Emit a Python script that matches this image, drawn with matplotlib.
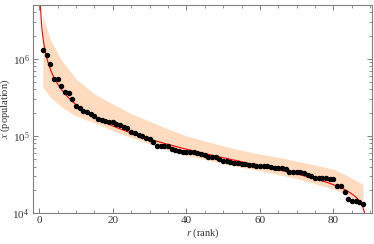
import matplotlib
matplotlib.use("Agg")
import matplotlib.pyplot as plt
import numpy as np
from matplotlib.ticker import MultipleLocator, LogLocator, NullFormatter

plt.rcParams["font.family"] = ["Liberation Serif", "DejaVu Serif"]
plt.rcParams["mathtext.fontset"] = "stix"

# population by rank
rank = np.arange(1, 89)
population = [
    1.31e6, 1.13e6, 8.5e5, 5.4e5, 5.4e5, 4.46e5, 3.76e5, 3.59e5, 3.0e5, 2.41e5,
    2.33e5, 2.13e5, 2.03e5, 1.93e5, 1.79e5, 1.66e5, 1.59e5, 1.55e5, 1.53e5, 1.52e5,
    1.42e5, 1.40e5, 1.32e5, 1.25e5, 1.14e5, 1.08e5, 1.03e5, 1.0e5, 9.5e4, 9.06e4,
    8.43e4, 7.48e4, 7.48e4, 7.48e4, 7.41e4, 6.78e4, 6.64e4, 6.44e4, 6.25e4, 6.2e4,
    6.14e4, 6.1e4, 6.0e4, 5.84e4, 5.61e4, 5.38e4, 5.38e4, 5.29e4, 5.02e4, 4.69e4,
    4.69e4, 4.63e4, 4.5e4, 4.42e4, 4.33e4, 4.26e4, 4.2e4, 4.16e4, 4.11e4, 4.11e4,
    4.07e4, 4.04e4, 3.99e4, 3.87e4, 3.87e4, 3.81e4, 3.73e4, 3.44e4, 3.44e4, 3.44e4,
    3.44e4, 3.33e4, 3.14e4, 3.03e4, 2.87e4, 2.87e4, 2.87e4, 2.82e4, 2.77e4, 2.77e4,
    2.24e4, 2.24e4, 1.89e4, 1.52e4, 1.45e4, 1.42e4, 1.39e4, 1.31e4,
]

# band edges at a few ranks
band_rank = [1, 3, 6, 10, 15, 20, 25, 30, 35, 40, 45, 50, 55, 60, 65, 70, 75, 80, 84, 88]
band_upper = [3.6e6, 1.8e6, 9.7e5, 5.5e5, 3.5e5, 2.6e5, 1.95e5, 1.55e5, 1.23e5, 1.0e5,
              8.6e4, 7.4e4, 6.5e4, 5.8e4, 5.3e4, 4.7e4, 4.2e4, 3.7e4, 3.0e4, 2.35e4]
band_lower = [4.3e5, 3.2e5, 2.4e5, 1.8e5, 1.48e5, 1.17e5, 9.5e4, 7.9e4, 6.5e4, 5.6e4,
              4.95e4, 4.4e4, 3.9e4, 3.55e4, 3.15e4, 2.8e4, 2.4e4, 2.05e4, 1.68e4, 1.25e4]

# fit log x = c - a log r + b log(N+1-r)
n1 = len(rank) + 1
A = np.column_stack([np.ones(len(rank)), np.log(rank), np.log(n1 - rank)])
coef, *_ = np.linalg.lstsq(A, np.log(population), rcond=None)
rr = np.linspace(0.02, n1 - 0.02, 2000)
fit = np.exp(coef[0] + coef[1] * np.log(rr) + coef[2] * np.log(n1 - rr))

fig = plt.figure(figsize=(3.74, 2.44), dpi=100)
ax = fig.add_axes([0.088, 0.127, 0.907, 0.853])

ax.fill_between(band_rank, band_lower, band_upper, color="#ffdcbf", lw=0)
ax.plot(rr, fit, color="red", lw=0.8)
ax.plot(rank, population, "o", color="black", ms=2.9)

ax.set_yscale("log")
ax.set_xlim(-1.7, 90.5)
ax.set_ylim(1e4, 5e6)
ax.xaxis.set_major_locator(MultipleLocator(20))
ax.xaxis.set_minor_locator(MultipleLocator(5))
ax.yaxis.set_major_locator(LogLocator(base=10))
ax.yaxis.set_minor_locator(LogLocator(base=10, subs=np.arange(2, 10)))
ax.yaxis.set_minor_formatter(NullFormatter())

for s in ax.spines.values():
    s.set_color("#808080")
    s.set_linewidth(0.8)
ax.tick_params(which="both", direction="in", top=True, right=True, color="#808080",
               labelsize=8, labelcolor="#333333", pad=2.5)
ax.tick_params(which="major", length=3.5, width=0.7)
ax.tick_params(which="minor", length=2, width=0.6)

ax.set_xlabel(r"$r$ (rank)", fontsize=7.5, color="#333333", labelpad=1)
ax.set_ylabel(r"$x$ (population)", fontsize=7.5, color="#333333", labelpad=0)

fig.savefig("out.png", dpi=100)
